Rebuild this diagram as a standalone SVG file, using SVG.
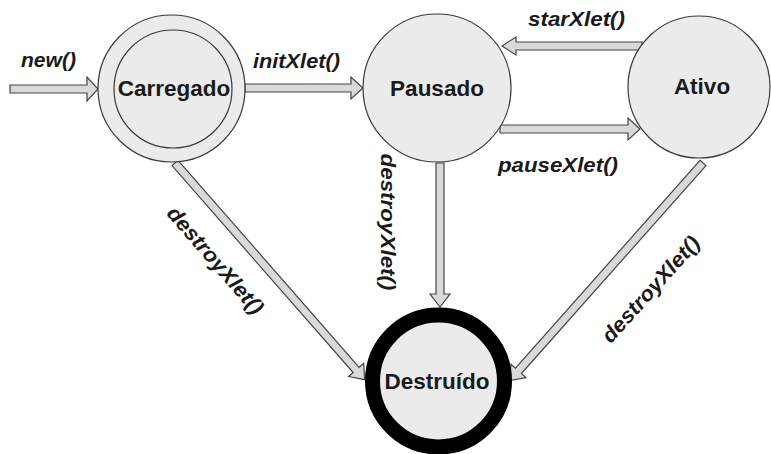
<svg xmlns="http://www.w3.org/2000/svg" width="771" height="454" viewBox="0 0 771 454">
  <style>
    .state { fill: #ebebeb; stroke: #3a3a3a; stroke-width: 1.2; }
    .final { fill: #ebebeb; stroke: #000; stroke-width: 15; }
    .name { font-family: "Liberation Sans", Arial, sans-serif; font-weight: bold; font-size: 22.5px; fill: #1a1a1a; text-anchor: middle; }
    .lbl { font-family: "Liberation Sans", Arial, sans-serif; font-weight: bold; font-style: italic; font-size: 21px; fill: #1a1a1a; }
    .arrow { fill: #d9d9d9; stroke: #444; stroke-width: 1.2; stroke-linejoin: miter; }
  </style>

  <!-- transitions: hollow block arrows, drawn along +x then placed -->
  <g id="connectors">
    <!-- new() -->
    <path class="arrow" d="M0,-4 H77 V-12 L88,0 L77,12 V4 H0 Z" transform="translate(10,89)"/>
    <!-- initXlet() -->
    <path class="arrow" d="M0,-4 H106 V-11 L118,0 L106,11 V4 H0 Z" transform="translate(245,88)"/>
    <!-- starXlet() -->
    <path class="arrow" d="M0,-4 H126 V-9 L140,0 L126,9 V4 H0 Z" transform="translate(642,46) rotate(180)"/>
    <!-- pauseXlet() -->
    <path class="arrow" d="M0,-4 H128 V-11 L140,0 L128,11 V4 H0 Z" transform="translate(500,129)"/>
    <!-- Pausado -> Destruído -->
    <path class="arrow" d="M0,-4 H131 V-10 L144,0 L131,10 V4 H0 Z" transform="translate(440,163) rotate(90)"/>
    <!-- Carregado -> Destruído -->
    <path class="arrow" d="M0,-4 H275 V-10 L288,0 L275,10 V4 H0 Z" transform="translate(175,163) rotate(48.8)"/>
    <!-- Ativo -> Destruído -->
    <path class="arrow" d="M0,-4 H278 V-10 L291,0 L278,10 V4 H0 Z" transform="translate(703,163) rotate(131.6)"/>
  </g>

  <g id="carregado">
    <circle class="state" cx="171.5" cy="88.5" r="73.5"/>
    <circle class="state" cx="173" cy="89" r="59"/>
    <text class="name" x="174" y="96">Carregado</text>
  </g>

  <g id="pausado">
    <circle class="state" cx="437" cy="88" r="74"/>
    <text class="name" x="437" y="96">Pausado</text>
  </g>

  <g id="ativo">
    <circle class="state" cx="699" cy="87" r="71"/>
    <text class="name" x="702" y="94">Ativo</text>
  </g>

  <g id="destruido">
    <circle class="final" cx="438.5" cy="381" r="66"/>
    <text class="name" x="437" y="389">Destruído</text>
  </g>

  <g id="labels">
    <text class="lbl" x="21" y="67" textLength="55" lengthAdjust="spacingAndGlyphs">new()</text>
    <text class="lbl" x="253" y="68" textLength="87" lengthAdjust="spacingAndGlyphs">initXlet()</text>
    <text class="lbl" x="528" y="26" textLength="97" lengthAdjust="spacingAndGlyphs">starXlet()</text>
    <text class="lbl" x="498" y="172" textLength="120" lengthAdjust="spacingAndGlyphs">pauseXlet()</text>
    <text class="lbl" text-anchor="middle" transform="translate(381,222) rotate(90)" textLength="137" lengthAdjust="spacingAndGlyphs">destroyXlet()</text>
    <text class="lbl" text-anchor="middle" transform="translate(210,265) rotate(49)" textLength="135" lengthAdjust="spacingAndGlyphs">destroyXlet()</text>
    <text class="lbl" text-anchor="middle" transform="translate(656,294) rotate(-48)" textLength="135" lengthAdjust="spacingAndGlyphs">destroyXlet()</text>
  </g>
</svg>
